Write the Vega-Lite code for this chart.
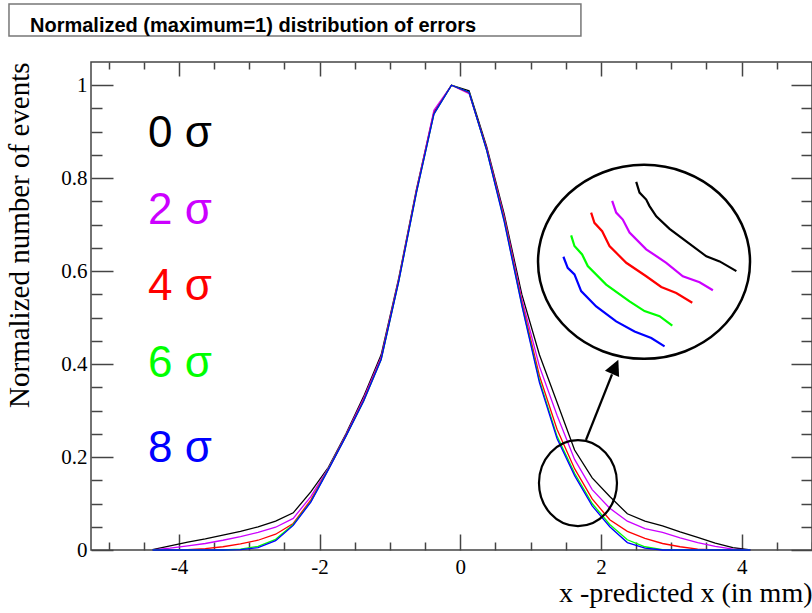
{
  "$schema": "https://vega.github.io/schema/vega-lite/v6.json",
  "width": 721,
  "height": 488,
  "autosize": {"type": "none"},
  "padding": {"left": 91, "top": 62, "right": 0, "bottom": 63},
  "background": "white",
  "title": {
    "text": "Normalized (maximum=1) distribution of errors",
    "anchor": "start",
    "frame": "group",
    "font": "Liberation Sans",
    "fontSize": 20,
    "fontWeight": "bold",
    "color": "black",
    "baseline": "alphabetic",
    "offset": -49,
    "dx": -61
  },
  "datasets": {
    "curves": [
      {"x": -4.375, "s0": 0.001, "s2": 0, "s4": 0, "s6": 0, "s8": 0},
      {"x": -4.125, "s0": 0.009, "s2": 0.004, "s4": 0, "s6": 0, "s8": 0},
      {"x": -3.875, "s0": 0.017, "s2": 0.009, "s4": 0.001, "s6": 0, "s8": 0},
      {"x": -3.625, "s0": 0.024, "s2": 0.014, "s4": 0.003, "s6": 0, "s8": 0},
      {"x": -3.375, "s0": 0.032, "s2": 0.021, "s4": 0.007, "s6": 0, "s8": 0},
      {"x": -3.125, "s0": 0.040, "s2": 0.029, "s4": 0.013, "s6": 0.002, "s8": 0.001},
      {"x": -2.875, "s0": 0.050, "s2": 0.038, "s4": 0.021, "s6": 0.008, "s8": 0.005},
      {"x": -2.625, "s0": 0.062, "s2": 0.049, "s4": 0.034, "s6": 0.023, "s8": 0.020},
      {"x": -2.375, "s0": 0.080, "s2": 0.068, "s4": 0.057, "s6": 0.055, "s8": 0.053},
      {"x": -2.125, "s0": 0.125, "s2": 0.115, "s4": 0.108, "s6": 0.104, "s8": 0.103},
      {"x": -1.875, "s0": 0.178, "s2": 0.176, "s4": 0.174, "s6": 0.174, "s8": 0.173},
      {"x": -1.625, "s0": 0.250, "s2": 0.248, "s4": 0.246, "s6": 0.245, "s8": 0.245},
      {"x": -1.375, "s0": 0.330, "s2": 0.326, "s4": 0.322, "s6": 0.320, "s8": 0.320},
      {"x": -1.125, "s0": 0.420, "s2": 0.415, "s4": 0.412, "s6": 0.410, "s8": 0.410},
      {"x": -0.875, "s0": 0.585, "s2": 0.582, "s4": 0.580, "s6": 0.578, "s8": 0.578},
      {"x": -0.625, "s0": 0.775, "s2": 0.772, "s4": 0.770, "s6": 0.768, "s8": 0.768},
      {"x": -0.375, "s0": 0.942, "s2": 0.946, "s4": 0.940, "s6": 0.938, "s8": 0.938},
      {"x": -0.125, "s0": 1.0, "s2": 1.0, "s4": 1.0, "s6": 1.0, "s8": 1.0},
      {"x": 0.125, "s0": 0.988, "s2": 0.982, "s4": 0.984, "s6": 0.985, "s8": 0.985},
      {"x": 0.375, "s0": 0.868, "s2": 0.864, "s4": 0.862, "s6": 0.860, "s8": 0.860},
      {"x": 0.625, "s0": 0.722, "s2": 0.716, "s4": 0.712, "s6": 0.708, "s8": 0.706},
      {"x": 0.875, "s0": 0.550, "s2": 0.540, "s4": 0.533, "s6": 0.528, "s8": 0.526},
      {"x": 1.125, "s0": 0.420, "s2": 0.395, "s4": 0.375, "s6": 0.365, "s8": 0.360},
      {"x": 1.375, "s0": 0.318, "s2": 0.290, "s4": 0.260, "s6": 0.245, "s8": 0.240},
      {"x": 1.625, "s0": 0.215, "s2": 0.195, "s4": 0.175, "s6": 0.165, "s8": 0.160},
      {"x": 1.875, "s0": 0.155, "s2": 0.130, "s4": 0.110, "s6": 0.100, "s8": 0.095},
      {"x": 2.125, "s0": 0.115, "s2": 0.090, "s4": 0.065, "s6": 0.055, "s8": 0.050},
      {"x": 2.375, "s0": 0.078, "s2": 0.062, "s4": 0.040, "s6": 0.022, "s8": 0.016},
      {"x": 2.625, "s0": 0.062, "s2": 0.046, "s4": 0.025, "s6": 0.007, "s8": 0.004},
      {"x": 2.875, "s0": 0.052, "s2": 0.038, "s4": 0.014, "s6": 0.001, "s8": 0},
      {"x": 3.125, "s0": 0.039, "s2": 0.026, "s4": 0.007, "s6": 0, "s8": 0},
      {"x": 3.375, "s0": 0.027, "s2": 0.016, "s4": 0.002, "s6": 0, "s8": 0},
      {"x": 3.625, "s0": 0.015, "s2": 0.008, "s4": 0, "s6": 0, "s8": 0},
      {"x": 3.875, "s0": 0.005, "s2": 0.002, "s4": 0, "s6": 0, "s8": 0},
      {"x": 4.125, "s0": 0, "s2": 0, "s4": 0, "s6": 0, "s8": 0}
    ],
    "labels": [
      {"s": "s0", "label": "0 σ", "x": -4.44, "y": 0.867},
      {"s": "s2", "label": "2 σ", "x": -4.44, "y": 0.701},
      {"s": "s4", "label": "4 σ", "x": -4.44, "y": 0.538},
      {"s": "s6", "label": "6 σ", "x": -4.44, "y": 0.372},
      {"s": "s8", "label": "8 σ", "x": -4.44, "y": 0.189}
    ],
    "inset": [
      {"s": "s0", "x": 2.501, "y": 0.792}, {"s": "s0", "x": 2.548, "y": 0.769}, {"s": "s0", "x": 2.643, "y": 0.754},
      {"s": "s0", "x": 2.690, "y": 0.740}, {"s": "s0", "x": 2.786, "y": 0.718}, {"s": "s0", "x": 2.975, "y": 0.691},
      {"s": "s0", "x": 3.213, "y": 0.664}, {"s": "s0", "x": 3.498, "y": 0.632}, {"s": "s0", "x": 3.687, "y": 0.621},
      {"s": "s0", "x": 3.925, "y": 0.600},
      {"s": "s2", "x": 2.159, "y": 0.751}, {"s": "s2", "x": 2.216, "y": 0.726}, {"s": "s2", "x": 2.310, "y": 0.711},
      {"s": "s2", "x": 2.406, "y": 0.683}, {"s": "s2", "x": 2.643, "y": 0.647}, {"s": "s2", "x": 2.928, "y": 0.618},
      {"s": "s2", "x": 3.164, "y": 0.589}, {"s": "s2", "x": 3.402, "y": 0.576}, {"s": "s2", "x": 3.591, "y": 0.559},
      {"s": "s4", "x": 1.860, "y": 0.726}, {"s": "s4", "x": 1.907, "y": 0.704}, {"s": "s4", "x": 2.017, "y": 0.686},
      {"s": "s4", "x": 2.121, "y": 0.654}, {"s": "s4", "x": 2.359, "y": 0.618}, {"s": "s4", "x": 2.643, "y": 0.589},
      {"s": "s4", "x": 2.857, "y": 0.566}, {"s": "s4", "x": 3.070, "y": 0.553}, {"s": "s4", "x": 3.298, "y": 0.532},
      {"s": "s6", "x": 1.576, "y": 0.677}, {"s": "s6", "x": 1.623, "y": 0.654}, {"s": "s6", "x": 1.732, "y": 0.636},
      {"s": "s6", "x": 1.812, "y": 0.611}, {"s": "s6", "x": 2.074, "y": 0.571}, {"s": "s6", "x": 2.406, "y": 0.535},
      {"s": "s6", "x": 2.619, "y": 0.514}, {"s": "s6", "x": 2.833, "y": 0.503}, {"s": "s6", "x": 3.014, "y": 0.483},
      {"s": "s8", "x": 1.466, "y": 0.631}, {"s": "s8", "x": 1.527, "y": 0.607}, {"s": "s8", "x": 1.623, "y": 0.593},
      {"s": "s8", "x": 1.718, "y": 0.557}, {"s": "s8", "x": 1.932, "y": 0.524}, {"s": "s8", "x": 2.216, "y": 0.492},
      {"s": "s8", "x": 2.477, "y": 0.470}, {"s": "s8", "x": 2.715, "y": 0.456}, {"s": "s8", "x": 2.904, "y": 0.438}
    ],
    "circles": [
      {"name": "detail", "x": 1.673, "y": 0.144},
      {"name": "zoom", "x": 2.612, "y": 0.620}
    ],
    "arrow": [
      {"x": 1.787, "y": 0.237, "x2": 2.157, "y2": 0.378, "hx": 2.202, "hy": 0.394}
    ],
    "box": [
      {"x": -6.416, "x2": 1.715, "y": 1.1747, "y2": 1.1059}
    ]
  },
  "layer": [
    {
      "data": {"name": "curves"},
      "transform": [{"fold": ["s0", "s2", "s4", "s6", "s8"], "as": ["s", "y"]}],
      "mark": {"type": "line", "strokeWidth": 1.3, "interpolate": "linear"},
      "encoding": {
        "x": {
          "field": "x", "type": "quantitative",
          "scale": {"domain": [-5.25, 5], "nice": false, "zero": false},
          "axis": {
            "orient": "bottom",
            "values": [-5, -4.5, -4, -3.5, -3, -2.5, -2, -1.5, -1, -0.5, 0, 0.5, 1, 1.5, 2, 2.5, 3, 3.5, 4, 4.5, 5],
            "labelExpr": "datum.value % 2 === 0 ? toString(datum.value) : ''",
            "tickSize": {"condition": {"test": "datum.value % 2 === 0", "value": -16}, "value": -8},
            "labelPadding": 22,
            "title": "x -predicted x (in mm)",
            "titleAnchor": "end",
            "titleAlign": "right",
            "titleBaseline": "alphabetic",
            "titleX": 721,
            "titleY": 51
          }
        },
        "y": {
          "field": "y", "type": "quantitative",
          "scale": {"domain": [0, 1.05], "nice": false, "zero": false},
          "axis": {
            "orient": "left",
            "values": [0, 0.05, 0.1, 0.15, 0.2, 0.25, 0.3, 0.35, 0.4, 0.45, 0.5, 0.55, 0.6, 0.65, 0.7, 0.75, 0.8, 0.85, 0.9, 0.95, 1],
            "labelExpr": "abs(datum.value * 5 - round(datum.value * 5)) < 0.000001 ? toString(round(datum.value * 10) / 10) : ''",
            "tickSize": {"condition": {"test": "abs(datum.value * 5 - round(datum.value * 5)) < 0.000001", "value": -22}, "value": -11},
            "labelPadding": 26,
            "title": "Normalized number of events",
            "titleAnchor": "end",
            "titleAlign": "right",
            "titleAngle": -90,
            "titleBaseline": "alphabetic",
            "titleFontSize": 29,
            "titleX": -63,
            "titleY": 0
          }
        },
        "color": {
          "field": "s", "type": "nominal",
          "scale": {"domain": ["s0", "s2", "s4", "s6", "s8"], "range": ["#000000", "#cc00ff", "#ff0000", "#00ff00", "#0000ff"]},
          "legend": null
        }
      }
    },
    {
      "data": {"name": "inset"},
      "mark": {"type": "line", "strokeWidth": 2.2, "interpolate": "linear"},
      "encoding": {
        "x": {
          "field": "x", "type": "quantitative",
          "scale": {"domain": [-5.25, 5], "nice": false, "zero": false},
          "axis": {
            "orient": "top",
            "values": [-5, -4.5, -4, -3.5, -3, -2.5, -2, -1.5, -1, -0.5, 0, 0.5, 1, 1.5, 2, 2.5, 3, 3.5, 4, 4.5, 5],
            "labels": false,
            "tickSize": {"condition": {"test": "datum.value % 2 === 0", "value": -14}, "value": -7},
            "title": null
          }
        },
        "y": {
          "field": "y", "type": "quantitative",
          "scale": {"domain": [0, 1.05], "nice": false, "zero": false},
          "axis": {
            "orient": "right",
            "values": [0, 0.05, 0.1, 0.15, 0.2, 0.25, 0.3, 0.35, 0.4, 0.45, 0.5, 0.55, 0.6, 0.65, 0.7, 0.75, 0.8, 0.85, 0.9, 0.95, 1],
            "labels": false,
            "tickSize": {"condition": {"test": "abs(datum.value * 5 - round(datum.value * 5)) < 0.000001", "value": -21}, "value": -11},
            "title": null
          }
        },
        "color": {"field": "s", "type": "nominal", "legend": null}
      }
    },
    {
      "data": {"name": "labels"},
      "mark": {"type": "text", "font": "Liberation Sans", "fontSize": 44, "align": "left", "baseline": "alphabetic"},
      "encoding": {
        "x": {"field": "x", "type": "quantitative", "scale": {"domain": [-5.25, 5], "nice": false, "zero": false}, "axis": null},
        "y": {"field": "y", "type": "quantitative", "scale": {"domain": [0, 1.05], "nice": false, "zero": false}, "axis": null},
        "text": {"field": "label"},
        "color": {"field": "s", "type": "nominal", "legend": null}
      }
    },
    {
      "data": {"name": "circles"},
      "transform": [{"filter": "datum.name === 'detail'"}],
      "mark": {
        "type": "point", "filled": false, "stroke": "black", "strokeWidth": 2.2, "opacity": 1, "size": 7396,
        "shape": "M0.907,0C0.907,0.552 0.501,1 0,1C-0.501,1 -0.907,0.552 -0.907,0C-0.907,-0.552 -0.501,-1 0,-1C0.501,-1 0.907,-0.552 0.907,0Z"
      },
      "encoding": {
        "x": {"field": "x", "type": "quantitative", "scale": {"domain": [-5.25, 5], "nice": false, "zero": false}, "axis": null},
        "y": {"field": "y", "type": "quantitative", "scale": {"domain": [0, 1.05], "nice": false, "zero": false}, "axis": null}
      }
    },
    {
      "data": {"name": "circles"},
      "transform": [{"filter": "datum.name === 'zoom'"}],
      "mark": {
        "type": "point", "filled": false, "stroke": "black", "strokeWidth": 2.5, "opacity": 1, "size": 44944,
        "shape": "M1,0C1,0.505 0.552,0.915 0,0.915C-0.552,0.915 -1,0.505 -1,0C-1,-0.505 -0.552,-0.915 0,-0.915C0.552,-0.915 1,-0.505 1,0Z"
      },
      "encoding": {
        "x": {"field": "x", "type": "quantitative", "scale": {"domain": [-5.25, 5], "nice": false, "zero": false}, "axis": null},
        "y": {"field": "y", "type": "quantitative", "scale": {"domain": [0, 1.05], "nice": false, "zero": false}, "axis": null}
      }
    },
    {
      "data": {"name": "arrow"},
      "mark": {"type": "rule", "stroke": "black", "strokeWidth": 2.3},
      "encoding": {
        "x": {"field": "x", "type": "quantitative", "scale": {"domain": [-5.25, 5], "nice": false, "zero": false}, "axis": null},
        "y": {"field": "y", "type": "quantitative", "scale": {"domain": [0, 1.05], "nice": false, "zero": false}, "axis": null},
        "x2": {"field": "x2"},
        "y2": {"field": "y2"}
      }
    },
    {
      "data": {"name": "arrow"},
      "mark": {
        "type": "point", "filled": true, "color": "black", "opacity": 1, "size": 240, "angle": 24,
        "shape": "M0,-1L1,1L-1,1Z"
      },
      "encoding": {
        "x": {"field": "hx", "type": "quantitative", "scale": {"domain": [-5.25, 5], "nice": false, "zero": false}, "axis": null},
        "y": {"field": "hy", "type": "quantitative", "scale": {"domain": [0, 1.05], "nice": false, "zero": false}, "axis": null}
      }
    },
    {
      "data": {"name": "box"},
      "mark": {"type": "rect", "fill": "transparent", "stroke": "#777777", "strokeWidth": 1.5},
      "encoding": {
        "x": {"field": "x", "type": "quantitative", "scale": {"domain": [-5.25, 5], "nice": false, "zero": false}, "axis": null},
        "x2": {"field": "x2"},
        "y": {"field": "y", "type": "quantitative", "scale": {"domain": [0, 1.05], "nice": false, "zero": false}, "axis": null},
        "y2": {"field": "y2"}
      }
    }
  ],
  "resolve": {"axis": {"x": "independent", "y": "independent"}},
  "config": {
    "view": {"stroke": "#444444", "strokeWidth": 1.5},
    "axis": {
      "domain": false,
      "grid": false,
      "tickColor": "#444444",
      "tickWidth": 1.5,
      "labelFont": "Liberation Serif",
      "labelFontSize": 21,
      "labelColor": "black",
      "titleFont": "Liberation Serif",
      "titleFontSize": 28,
      "titleFontWeight": "normal",
      "titleColor": "black"
    }
  }
}
